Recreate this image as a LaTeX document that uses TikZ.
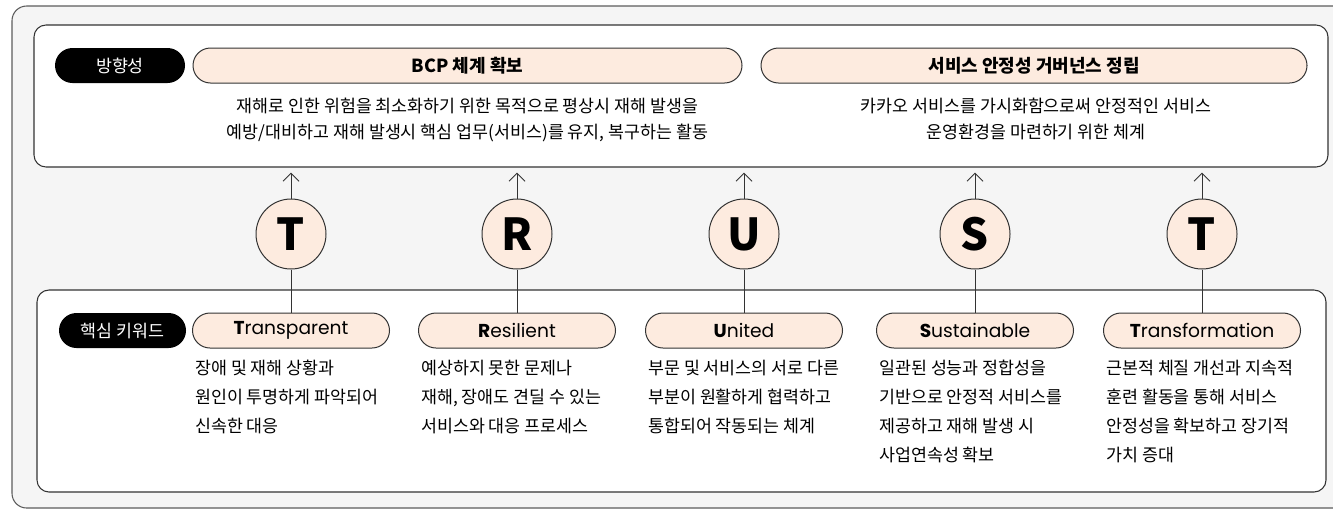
\documentclass[tikz,border=0pt]{standalone}
\usepackage{fontspec}
\setmainfont{Noto Sans CJK KR}
\newfontfamily\keyfont{Poppins}
\usetikzlibrary{shapes.misc,arrows.meta}
\definecolor{peach}{HTML}{FDEBDF}
\definecolor{backgray}{HTML}{F5F5F5}
\definecolor{edge}{HTML}{333333}
\tikzset{
  panel/.style={draw=edge,line width=0.8pt,fill=white,rounded corners=9pt,inner sep=0pt},
  tagpill/.style={rounded rectangle,fill=black,text=white,minimum height=26.25pt,inner sep=0pt,font=\fontsize{13}{15}\selectfont},
  headpill/.style={rounded rectangle,draw=edge,line width=0.75pt,fill=peach,minimum height=26.25pt,inner sep=0pt,font=\fontsize{13.5}{15}\selectfont\bfseries},
  keypill/.style={rounded rectangle,draw=edge,line width=0.75pt,fill=peach,minimum height=26.25pt,minimum width=147.75pt,inner sep=0pt,font=\keyfont\fontsize{14}{16}\selectfont},
  letter/.style={circle,draw=edge,line width=0.75pt,fill=peach,minimum size=52.5pt,inner sep=0pt,font=\fontsize{33}{36}\selectfont\bfseries},
  desc/.style={inner sep=0pt,align=left,anchor=base west,font=\fontsize{13}{21.75}\selectfont},
  topdesc/.style={inner sep=0pt,align=center,anchor=base,font=\fontsize{13}{19.5}\selectfont},
  link/.style={draw=edge,line width=0.75pt},
  uparrow/.style={link,-{Straight Barb[length=6pt,width=12pt]},shorten >=3.75pt}
}
\begin{document}
\begin{tikzpicture}[x=0.75pt,y=-0.75pt]
\useasboundingbox (0,0) rectangle (1333,511);
% backdrop
\draw[draw=edge!80,line width=0.8pt,fill=backgray,rounded corners=11pt] (12,6) rectangle (1350,508);
\node[panel,minimum width=970.5pt,minimum height=106.5pt] (toppanel) at (681,96) {};
\node[panel,minimum width=966.75pt,minimum height=151.5pt] (keypanel) at (681.5,391) {};
% direction (base = last line)
\node[tagpill,minimum width=97.5pt] (dirtag) at (120,65.5) {방향성};
\node[headpill,minimum width=411.75pt] (bcp) at (467.5,65.5) {BCP 체계 확보};
\node[headpill,minimum width=409.5pt] (gov) at (1034,65.5) {서비스 안정성 거버넌스 정립};
\node[topdesc] (bcptext) at (467.5,138) {재해로 인한 위험을 최소화하기 위한 목적으로 평상시 재해 발생을\\예방/대비하고 재해 발생시 핵심 업무(서비스)를 유지, 복구하는 활동};
\node[topdesc] (govtext) at (1036,138) {카카오 서비스를 가시화함으로써 안정적인 서비스\\운영환경을 마련하기 위한 체계};
% key words
\node[tagpill,minimum width=95.25pt] (keytag) at (122.5,330.5) {핵심 키워드};
\node[keypill] (kt) at (291,330.5) {{\bfseries T}ransparent};
\node[keypill] (kr) at (517,330.5) {{\bfseries R}esilient};
\node[keypill] (ku) at (744,330.5) {{\bfseries U}nited};
\node[keypill] (ks) at (975,330.5) {{\bfseries S}ustainable};
\node[keypill] (kf) at (1202,330.5) {{\bfseries T}ransformation};
\node[desc] (dt) at (195,432) {장애 및 재해 상황과\\원인이 투명하게 파악되어\\신속한 대응};
\node[desc] (dr) at (421,432) {예상하지 못한 문제나\\재해, 장애도 견딜 수 있는\\서비스와 대응 프로세스};
\node[desc] (du) at (648,432) {부문 및 서비스의 서로 다른\\부분이 원활하게 협력하고\\통합되어 작동되는 체계};
\node[desc] (ds) at (879,461) {일관된 성능과 정합성을\\기반으로 안정적 서비스를\\제공하고 재해 발생 시\\사업연속성 확보};
\node[desc] (df) at (1106,461) {근본적 체질 개선과 지속적\\훈련 활동을 통해 서비스\\안정성을 확보하고 장기적\\가치 증대};
% T R U S T
\node[letter] (ct) at (291,234) {T};
\node[letter] (cr) at (517,234) {R};
\node[letter] (cu) at (744,234) {U};
\node[letter] (cs) at (975,234) {S};
\node[letter] (cf) at (1202,234) {T};
\draw[uparrow] (ct.north) -- (ct.north |- toppanel.south);
\draw[uparrow] (cr.north) -- (cr.north |- toppanel.south);
\draw[uparrow] (cu.north) -- (cu.north |- toppanel.south);
\draw[uparrow] (cs.north) -- (cs.north |- toppanel.south);
\draw[uparrow] (cf.north) -- (cf.north |- toppanel.south);
\draw[link] (ct.south) -- (ct.south |- kt.north);
\draw[link] (cr.south) -- (cr.south |- kr.north);
\draw[link] (cu.south) -- (cu.south |- ku.north);
\draw[link] (cs.south) -- (cs.south |- ks.north);
\draw[link] (cf.south) -- (cf.south |- kf.north);
\end{tikzpicture}
\end{document}
